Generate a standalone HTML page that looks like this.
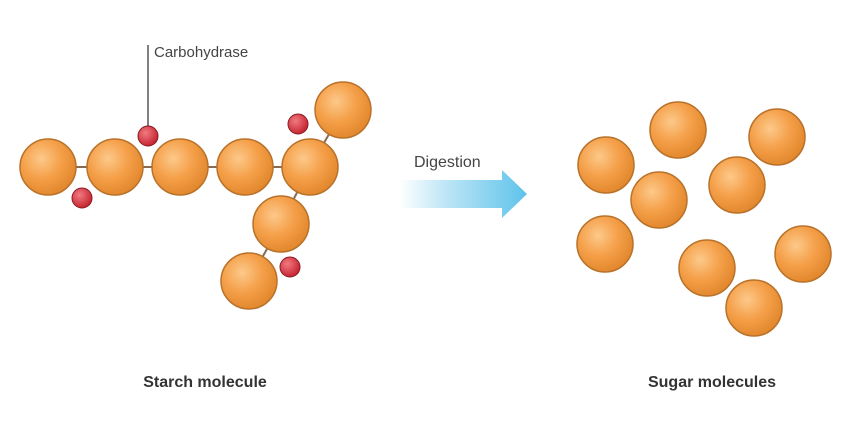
<!DOCTYPE html>
<html><head><meta charset="utf-8"><style>
html,body{margin:0;padding:0;background:#fff;width:860px;height:446px;overflow:hidden}
svg{display:block}
text{font-family:"Liberation Sans",Arial,sans-serif}
</style></head><body>
<svg width="860" height="446" viewBox="0 0 860 446">
<defs>
<radialGradient id="og" cx="0.38" cy="0.35" r="0.7">
<stop offset="0" stop-color="#fcc98a"/><stop offset="0.5" stop-color="#f5a04a"/><stop offset="1" stop-color="#e0852a"/>
</radialGradient>
<radialGradient id="rg" cx="0.38" cy="0.35" r="0.7">
<stop offset="0" stop-color="#f27a80"/><stop offset="1" stop-color="#c21f2c"/>
</radialGradient>
<linearGradient id="ag" x1="0" x2="1">
<stop offset="0" stop-color="#ffffff"/><stop offset="0.35" stop-color="#bfe6f6"/><stop offset="1" stop-color="#5ec3ea"/>
</linearGradient>
</defs>
<g stroke="#8a6a50" stroke-width="2">
<line x1="48" y1="167" x2="310" y2="167"/>
<line x1="310" y1="167" x2="343" y2="110"/>
<line x1="310" y1="167" x2="281" y2="224"/>
<line x1="281" y1="224" x2="249" y2="281"/>
</g>
<line x1="148" y1="45" x2="148" y2="130" stroke="#555" stroke-width="1.5"/>
<text x="154" y="57" font-size="15" fill="#444">Carbohydrase</text>
<g fill="url(#og)" stroke="#b8722a" stroke-width="1.5">
<circle cx="48" cy="167" r="28"/><circle cx="115" cy="167" r="28"/><circle cx="180" cy="167" r="28"/>
<circle cx="245" cy="167" r="28"/><circle cx="310" cy="167" r="28"/><circle cx="343" cy="110" r="28"/>
<circle cx="281" cy="224" r="28"/><circle cx="249" cy="281" r="28"/>
</g>
<g fill="url(#rg)" stroke="#8a1a22" stroke-width="1">
<circle cx="148" cy="136" r="10"/><circle cx="298" cy="124" r="10"/>
<circle cx="82" cy="198" r="10"/><circle cx="290" cy="267" r="10"/>
</g>
<text x="414" y="167" font-size="16" fill="#444">Digestion</text>
<polygon points="400,180 502,180 502,170 527,194 502,218 502,208 400,208" fill="url(#ag)"/>
<g fill="url(#og)" stroke="#b8722a" stroke-width="1.5">
<circle cx="606" cy="165" r="28"/><circle cx="678" cy="130" r="28"/><circle cx="777" cy="137" r="28"/>
<circle cx="659" cy="200" r="28"/><circle cx="737" cy="185" r="28"/><circle cx="605" cy="244" r="28"/>
<circle cx="707" cy="268" r="28"/><circle cx="803" cy="254" r="28"/><circle cx="754" cy="308" r="28"/>
</g>
<text x="205" y="387" font-size="16" font-weight="bold" text-anchor="middle" fill="#333">Starch molecule</text>
<text x="712" y="387" font-size="16" font-weight="bold" text-anchor="middle" fill="#333">Sugar molecules</text>
</svg>
</body></html>
